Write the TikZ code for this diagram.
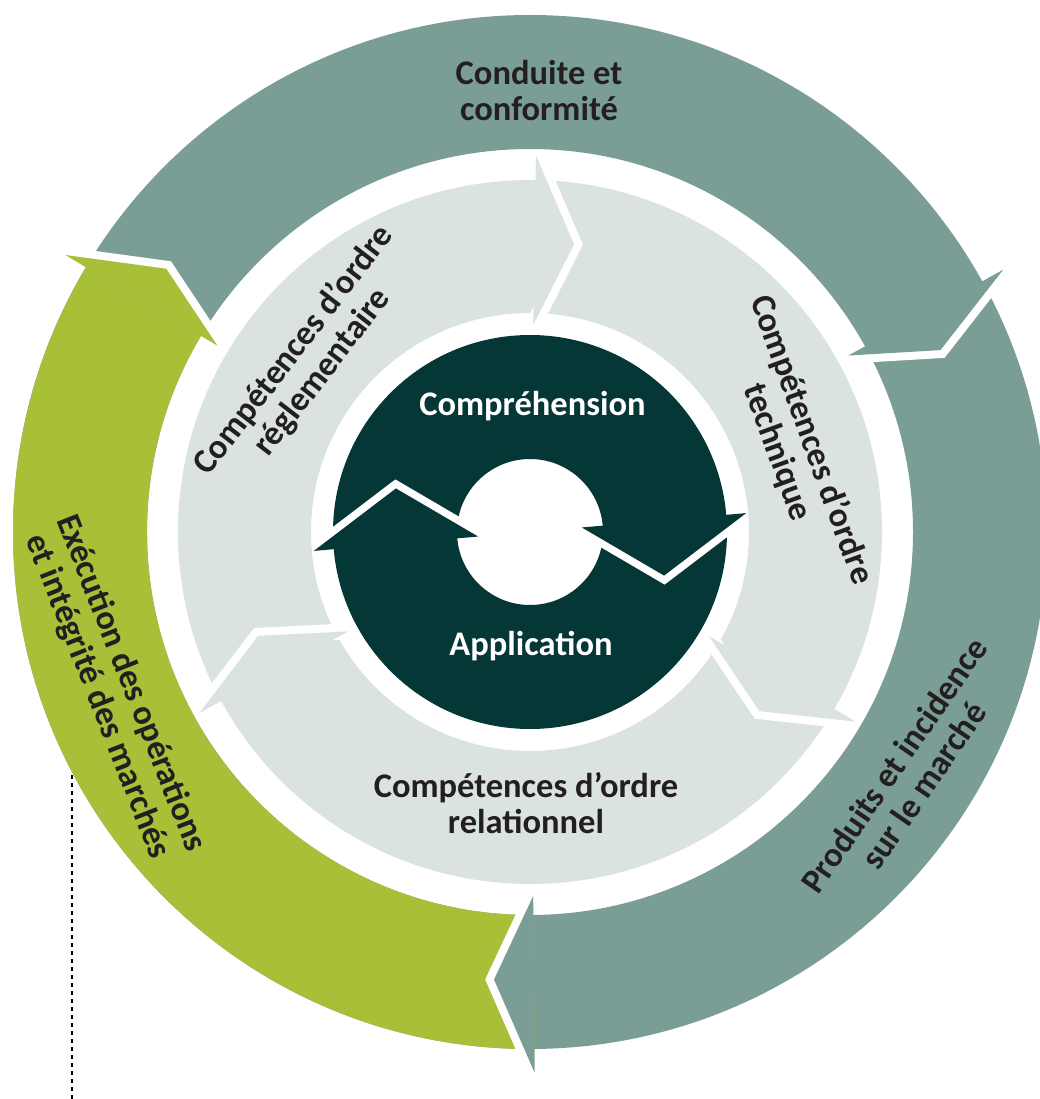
\documentclass[tikz,border=0pt]{standalone}
\usepackage{fontspec}
\setmainfont{Carlito}
\definecolor{ringgray}{HTML}{7A9D96}
\definecolor{ringgreen}{HTML}{A8C038}
\definecolor{ringlight}{HTML}{DBE3E2}
\definecolor{ringdark}{HTML}{063737}
\definecolor{labeltext}{HTML}{231F20}
% #1 colour, #2 head angle, #3 tip lead angle, #4 inner barb r, #5 tip r, #6 outer barb r, #7 gap stroke width
\newcommand\ringhead[7]{%
  \draw[white, line width=#7, line cap=butt, line join=miter]
    (#2:#6) -- ({#2-#3}:#5) -- (#2:#4);
  \fill[#1] (#2:#6) -- ({#2-#3}:#5) -- (#2:#4) -- cycle;}
\begin{document}
\begin{tikzpicture}[x=1pt,y=1pt,
  lbl/.style={font=\bfseries\fontsize{34.5}{36}\selectfont, align=center, text=labeltext, inner sep=0pt},
  corelbl/.style={lbl, text=white},
  guide/.style={draw=black, line width=2.4pt, dash pattern=on 4pt off 4pt}]
\fill[white] (0,0) rectangle (1040,-1099);
\useasboundingbox (0,0) rectangle (1040,-1099);
\coordinate (C) at (530,-532);
\begin{scope}[shift={(C)}]
  % inner dark cycle
  \fill[ringdark, even odd rule] (0,0) circle[radius=197] (0,0) circle[radius=73];
  \ringhead{ringdark}{185}{23}{52}{141}{217}{15}
  \ringhead{ringdark}{5}{23}{52}{141}{217}{15}
  % middle light ring
  \fill[ringlight, even odd rule] (0,0) circle[radius=352] (0,0) circle[radius=219];
  \ringhead{ringlight}{89.1}{7.8}{207}{291}{377}{16}
  \ringhead{ringlight}{-30.2}{7.8}{207}{291}{377}{16}
  \ringhead{ringlight}{-151.3}{7.8}{207}{291}{377}{16}
  % outer ring
  \fill[ringgray, even odd rule] (0,0) circle[radius=517] (0,0) circle[radius=383];
  \fill[ringgreen] (-89.5:517) arc[start angle=-89.5, end angle=-210.8, radius=517]
    -- (-210.8:383) arc[start angle=-210.8, end angle=-89.5, radius=383] -- cycle;
  \ringhead{ringgreen}{149.2}{5.1}{364}{449}{541}{16}
  \ringhead{ringgray}{29.0}{5.1}{364}{449}{541}{16}
  \ringhead{ringgray}{-89.5}{5.1}{364}{449}{541}{16}
  % labels
  \node[corelbl, anchor=base] (compr) at (2.5,117) {Compréhension};
  \node[corelbl, anchor=base] (appli) at (1,-123) {Application};
  \node[lbl] (reglem) at (142.4:280) [rotate=52.4] {Compétences d’ordre\\réglementaire};
  \node[lbl] (techn) at (18:278) [rotate=-70] {Compétences d’ordre\\technique};
  \node[lbl] (relat) at (-4,-271) {Compétences d’ordre\\relationnel};
  \node[lbl] (conduite) at (9,441) {Conduite et\\conformité};
  \node[lbl] (execution) at (200.8:445) [rotate=-68.5] {Exécution des opérations\\et intégrité des marchés};
  \node[lbl] (produits) at (-32.7:450) [rotate=55.5] {Produits et incidence\\sur le marché};
\end{scope}
\coordinate (dotTop) at (72,-775);
\coordinate (dotBot) at (72,-1099);
\draw[guide] (dotTop) -- (dotBot);
\end{tikzpicture}
\end{document}
